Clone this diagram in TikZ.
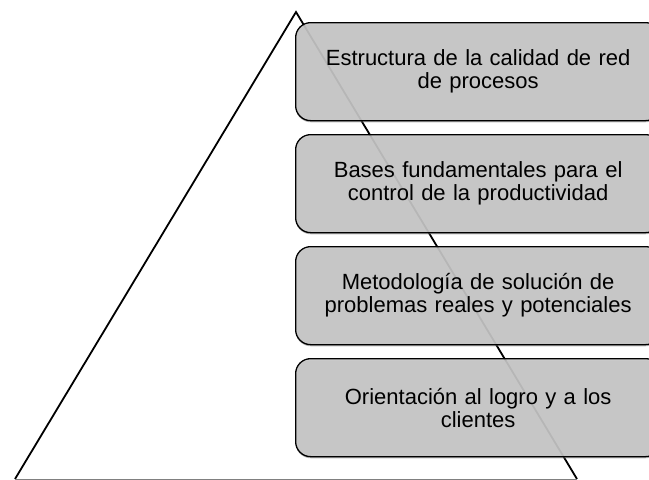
\documentclass[tikz,border=0pt]{standalone}
\usepackage{fontspec}
\setmainfont{Liberation Sans}
\usepackage{tikz}
\usetikzlibrary{shadows}

\tikzset{
  levelbox/.style={draw=black, line width=1.3pt, rounded corners=15pt,
    fill={rgb,255:red,201;green,201;blue,201}, fill opacity=0.86, text opacity=1,
    drop shadow={shadow xshift=0pt, shadow yshift=-1.6pt, opacity=0.55},
    minimum width=365pt, minimum height=98pt, text width=350pt, align=center,
    anchor=north west, inner sep=0pt, font=\fontsize{22}{23}\selectfont}
}

\begin{document}
\begin{tikzpicture}[x=1pt, y=-1pt]
  \useasboundingbox (0,0) rectangle (649,480);
  % pyramid
  \coordinate (apex) at (296,12);
  \coordinate (left) at (15,479);
  \coordinate (right) at (577,479);
  \draw[line width=1.8pt, line join=miter] (left) -- (apex) -- (right);
  \draw[gray, line width=0.8pt] (left) -- (right);
  % levels, top to bottom
  \node[levelbox] (red) at (295,22) {Estructura de la calidad de red\\de procesos};
  \node[levelbox] (bases) at (295,134) {Bases fundamentales para el\\control de la productividad};
  \node[levelbox] (metodo) at (295,246) {Metodología de solución de\\problemas reales y potenciales};
  \node[levelbox] (logro) at (295,358) {Orientación al logro y a los\\clientes};
\end{tikzpicture}
\end{document}
